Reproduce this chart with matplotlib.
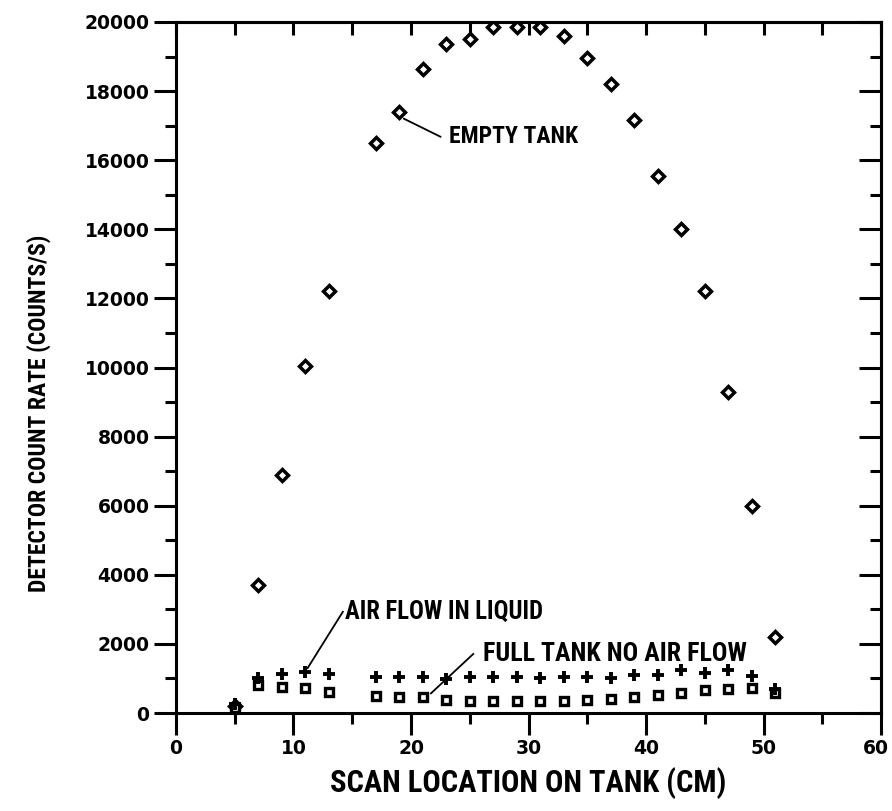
import matplotlib.pyplot as plt
from matplotlib import font_manager
from matplotlib.ticker import MultipleLocator
from matplotlib.transforms import ScaledTranslation

# scan positions (cm) and count rates
scan_cm = [5, 7, 9, 11, 13, 17, 19, 21, 23, 25, 27, 29, 31, 33, 35, 37, 39, 41, 43, 45, 47, 49, 51]
empty_tank = [200, 3700, 6900, 10050, 12200, 16500, 17400, 18650, 19350, 19500, 19850, 19850,
              19850, 19600, 18950, 18200, 17150, 15550, 14000, 12200, 9300, 6000, 2200]
air_flow = [250, 1000, 1130, 1200, 1130, 1030, 1030, 1030, 980, 1050, 1030, 1030,
            1000, 1030, 1030, 1000, 1090, 1090, 1250, 1160, 1250, 1080, 700]
full_tank = [150, 800, 760, 730, 600, 480, 470, 460, 370, 360, 350, 350,
             350, 360, 370, 400, 450, 520, 570, 660, 700, 730, 580]

x_ticks = [0, 10, 20, 30, 40, 50, 60]
y_ticks = [0, 2000, 4000, 6000, 8000, 10000, 12000, 14000, 16000, 18000, 20000]

# pick a narrow face for the labels if one is installed
installed = {f.name for f in font_manager.fontManager.ttflist}
narrow = None
for name in ['Liberation Sans Narrow', 'DejaVu Sans Condensed', 'Roboto Condensed',
             'Open Sans Condensed', 'Noto Sans Condensed']:
    if name in installed:
        narrow = name
        break
if narrow:
    label_font = [narrow, 'DejaVu Sans']
    scale = 1.0
else:
    label_font = ['DejaVu Sans']
    scale = 0.78

fig = plt.figure(figsize=(8.92, 8.11), dpi=100)
ax = fig.add_axes([0.1973, 0.1208, 0.7904, 0.8521])

ax.plot(scan_cm, empty_tank, linestyle='none', marker='D', markersize=6.5,
        markerfacecolor='white', markeredgecolor='black', markeredgewidth=2.5)
ax.plot(scan_cm, full_tank, linestyle='none', marker='s', markersize=6,
        markerfacecolor='white', markeredgecolor='black', markeredgewidth=2.4)
ax.plot(scan_cm, air_flow, linestyle='none', marker='+', markersize=8,
        markeredgecolor='black', markeredgewidth=2.8)

ax.set_xlim(0, 60)
ax.set_ylim(0, 20000)
ax.set_xticks(x_ticks)
ax.set_yticks(y_ticks)
ax.xaxis.set_minor_locator(MultipleLocator(5))
ax.yaxis.set_minor_locator(MultipleLocator(1000))

for s in ax.spines.values():
    s.set_linewidth(2.2)

ax.tick_params(which='major', direction='out', length=16, width=2.2,
               labelsize=13.5, pad=3)
ax.tick_params(which='minor', direction='out', length=8, width=2.2)
for lab in ax.get_xticklabels() + ax.get_yticklabels():
    lab.set_fontweight('bold')
# keep the "60" inside the figure edge
last = ax.get_xticklabels()[-1]
last.set_transform(last.get_transform() + ScaledTranslation(-5 / 100, 0, fig.dpi_scale_trans))

# inward ticks on top and right
top = ax.secondary_xaxis('top')
top.set_xticks(x_ticks)
top.xaxis.set_minor_locator(MultipleLocator(5))
top.tick_params(which='both', direction='in', length=9, width=2.2, labeltop=False)
top.spines['top'].set_linewidth(2.2)
right = ax.secondary_yaxis('right')
right.set_yticks(y_ticks)
right.yaxis.set_minor_locator(MultipleLocator(1000))
right.tick_params(which='major', direction='in', length=16, width=2.2, labelright=False)
right.tick_params(which='minor', direction='in', length=8, width=2.2)
right.spines['right'].set_linewidth(2.2)

ax.set_xlabel('SCAN LOCATION ON TANK (CM)', family=label_font, fontweight='bold',
              fontsize=22 * scale, va='center')
ax.xaxis.set_label_coords(0.5, -0.101)
ax.set_ylabel('DETECTOR COUNT RATE (COUNTS/S)', family=label_font, fontweight='bold',
              fontsize=17 * scale, va='center')
ax.yaxis.set_label_coords(-0.195, 0.433)

# labels with leader lines
labels = [
    ('EMPTY TANK', (23.2, 16700), 17, [(19.4, 22.5), (17200, 16680)]),
    ('AIR FLOW IN LIQUID', (14.4, 2930), 17.7, [(11.2, 14.2), (1300, 2930)]),
    ('FULL TANK NO AIR FLOW', (26.1, 1710), 18.6, [(21.7, 25.3), (570, 1710)]),
]
for txt, pos, size, line in labels:
    ax.text(pos[0], pos[1], txt, va='center', ha='left', family=label_font,
            fontweight='bold', fontsize=size * scale)
    ax.plot(line[0], line[1], color='black', lw=1.3)

fig.savefig('out.png', dpi=100)
